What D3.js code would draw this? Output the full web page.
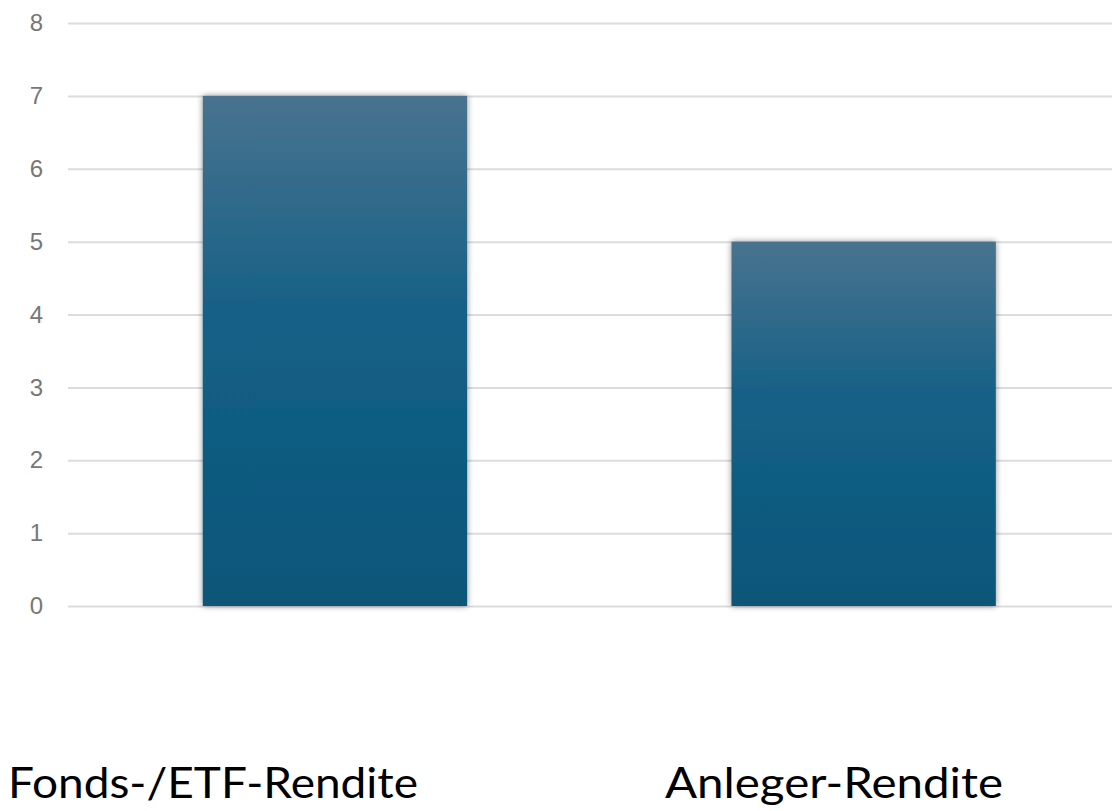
<!DOCTYPE html>
<meta charset="utf-8">
<script src="https://d3js.org/d3.v7.min.js"></script>
<style>
  body { margin: 0; background: #fff; }
</style>
<body>
<div id="my_dataviz"></div>
<script>

    // data
    var categories = ["Fonds-/ETF-Rendite", "Anleger-Rendite"];
    var values = [7, 5];
    var yTicks = [0, 1, 2, 3, 4, 5, 6, 7, 8];

    var W = 1112, H = 811;
    var margin = {top: 23, left: 68, bottom: 205};

    var svg = d3.select("#my_dataviz")
      .append("svg")
        .attr("width", W)
        .attr("height", H);

    var defs = svg.append("defs");

    // bar gradient, grey-blue at the top to deep teal
    var grad = defs.append("linearGradient")
        .attr("id", "barGrad")
        .attr("x1", 0).attr("y1", 0)
        .attr("x2", 0).attr("y2", 1);
    grad.append("stop").attr("offset", "0%").attr("stop-color", "#48738f");
    grad.append("stop").attr("offset", "45%").attr("stop-color", "#145f86");
    grad.append("stop").attr("offset", "100%").attr("stop-color", "#0b5679");

    var shadow = defs.append("filter")
        .attr("id", "shadow")
        .attr("x", "-10%").attr("y", "-10%")
        .attr("width", "120%").attr("height", "120%");
    shadow.append("feDropShadow")
        .attr("dx", 0).attr("dy", 0)
        .attr("stdDeviation", 3)
        .attr("flood-color", "#000")
        .attr("flood-opacity", 0.45);

    // scales
    var x = d3.scaleBand()
      .domain(categories)
      .range([70.6, 1128])
      .paddingInner(0.5)
      .paddingOuter(0.25);

    var y = d3.scaleLinear()
      .domain([0, 8])
      .range([H - margin.bottom, margin.top]);

    // Y axis with gridlines
    var yAxis = svg.append("g")
      .attr("transform", "translate(" + margin.left + ",0)")
      .call(d3.axisLeft(y)
        .tickValues(yTicks)
        .tickSize(-(W - margin.left))
        .tickPadding(25)
        .tickFormat(d3.format("d")));
    yAxis.select(".domain").remove();
    yAxis.selectAll(".tick line")
      .attr("stroke", "#dcdcdc")
      .attr("stroke-width", 2);
    yAxis.selectAll(".tick text")
      .attr("fill", "#777")
      .style("font-family", "'Liberation Sans', Arial, sans-serif")
      .style("font-size", "24px");

    // bars
    svg.append("g")
      .selectAll("rect")
      .data(values)
      .enter()
      .append("rect")
        .attr("x", function(d, i) { return x(categories[i]); })
        .attr("y", function(d) { return y(d); })
        .attr("width", x.bandwidth())
        .attr("height", function(d) { return y(0) - y(d); })
        .attr("fill", "url(#barGrad)")
        .attr("filter", "url(#shadow)");

    // category labels at the bottom
    var labelX = [8, 665];
    var labelW = [410, 338];
    svg.append("g")
      .selectAll("text")
      .data(categories)
      .enter()
      .append("text")
        .attr("x", function(d, i) { return labelX[i]; })
        .attr("y", 798)
        .attr("textLength", function(d, i) { return labelW[i]; })
        .attr("lengthAdjust", "spacingAndGlyphs")
        .style("font-family", "Lato, 'Noto Sans', sans-serif")
        .style("font-size", "42px")
        .attr("fill", "#000")
        .text(function(d) { return d; });

</script>
</body>
